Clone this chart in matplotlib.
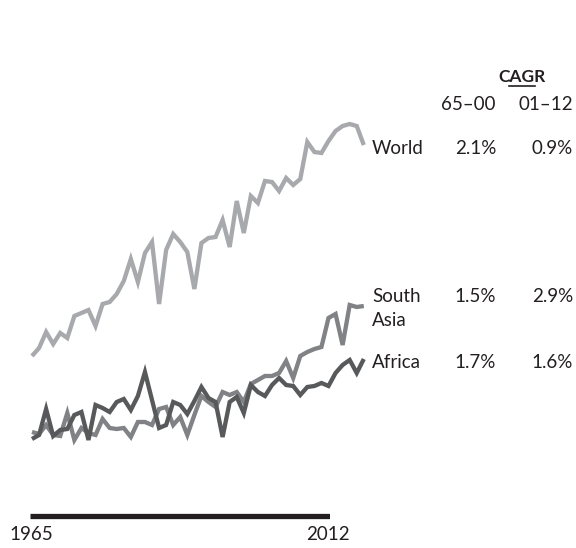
import matplotlib
matplotlib.use("Agg")
import matplotlib.pyplot as plt

years = list(range(1965, 2013))

# index values (higher = up)
world_px = [356, 348, 332, 344, 333, 338, 316, 313, 310, 326,
            304, 302, 294, 281, 259, 282, 253, 242, 304, 250,
            234, 242, 252, 289, 243, 238, 237, 220, 247, 201,
            233, 196, 203, 181, 182, 191, 178, 185, 179, 142,
            152, 153, 141, 131, 126, 124, 126, 145]
south_asia_px = [432, 434, 425, 435, 436, 413, 440, 428, 433, 435,
                 419, 428, 429, 428, 437, 422, 422, 425, 409, 407,
                 425, 417, 435, 415, 396, 402, 407, 392, 395, 392,
                 402, 384, 380, 376, 376, 373, 361, 378, 356, 352,
                 349, 347, 318, 314, 345, 305, 307, 306]
africa_px = [439, 435, 409, 436, 430, 429, 415, 412, 440, 405,
             408, 412, 402, 399, 410, 396, 372, 400, 428, 425,
             402, 405, 414, 401, 387, 398, 402, 437, 402, 397,
             413, 385, 392, 396, 385, 378, 385, 386, 395, 387,
             386, 383, 386, 373, 365, 360, 373, 359]

world = [500 - v for v in world_px]
south_asia = [500 - v for v in south_asia_px]
africa = [500 - v for v in africa_px]

regions = ["World", "South\nAsia", "Africa"]
cagr_65_00 = ["2.1%", "1.5%", "1.7%"]
cagr_01_12 = ["0.9%", "2.9%", "1.6%"]
start_label, end_label = "1965", "2012"

W, H = 576, 548
fig = plt.figure(figsize=(W / 100, H / 100), dpi=100)
FONT = ["Lato", "DejaVu Sans"]
TXT = "#231f20"

# main axes: map years/values onto the canvas
ax = fig.add_axes([0, 0, 1, 1])
ax.set_axis_off()
ppy = (363.8 - 32) / 47
ax.set_xlim(1965 - 32 / ppy, 1965 + (W - 32) / ppy)
ax.set_ylim(500 - H, 500)

common = dict(lw=3.1, solid_capstyle="butt", solid_joinstyle="miter")
ax.plot(years, world, color="#a7a9ac", zorder=2, **common)
ax.plot(years, south_asia, color="#818285", zorder=3, **common)
ax.plot(years, africa, color="#58595b", zorder=4, **common)

# timeline bar
ax2 = fig.add_axes([29.5 / W, 0, (330 - 29.5) / W, 1])
ax2.set_axis_off()
ax2.set_xlim(1965, 2012)
ax2.set_ylim(H, 0)
ax2.plot([1965, 2012], [515.5, 515.5], color="#231f20", lw=3.8,
         solid_capstyle="butt")

def px(x, y):
    return x / W, 1 - y / H

fs = 13.5
fig.text(*px(31, 535), start_label, ha="center", va="center", fontsize=fs,
         family=FONT, color=TXT)
fig.text(*px(327.5, 535), end_label, ha="center", va="center", fontsize=fs,
         family=FONT, color=TXT)

# header
fig.text(*px(522, 77), "CAGR", ha="center", va="center", fontsize=fs - 1,
         family=FONT, color=TXT, fontweight="bold")
fig.lines.append(plt.Line2D([509 / W, 535 / W], [1 - 86 / H, 1 - 86 / H],
                            transform=fig.transFigure, color=TXT, lw=1.2))
fig.text(*px(496, 104), "65–00", ha="right", va="center", fontsize=fs,
         family=FONT, color=TXT)
fig.text(*px(573, 104), "01–12", ha="right", va="center", fontsize=fs,
         family=FONT, color=TXT)

label_y = [148, 296, 362]
for name, a, b, y in zip(regions, cagr_65_00, cagr_01_12, label_y):
    if "\n" in name:
        l1, l2 = name.split("\n")
        fig.text(*px(372, y), l1, ha="left", va="center", fontsize=fs,
                 family=FONT, color=TXT)
        fig.text(*px(372, y + 24), l2, ha="left", va="center", fontsize=fs,
                 family=FONT, color=TXT)
    else:
        fig.text(*px(372, y), name, ha="left", va="center", fontsize=fs,
                 family=FONT, color=TXT)
    fig.text(*px(496, y), a, ha="right", va="center", fontsize=fs,
             family=FONT, color=TXT)
    fig.text(*px(573, y), b, ha="right", va="center", fontsize=fs,
             family=FONT, color=TXT)

fig.savefig("out.png", dpi=100, facecolor="white")
